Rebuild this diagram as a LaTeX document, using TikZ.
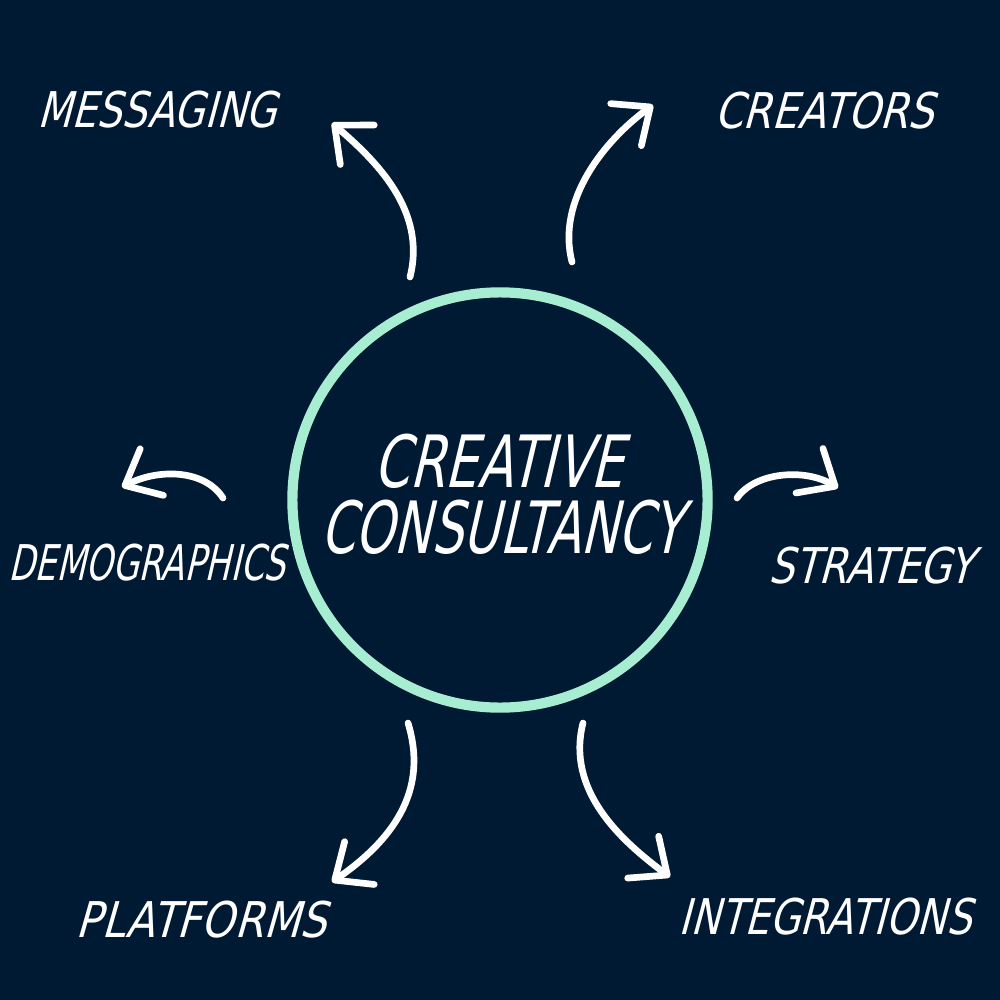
\documentclass[tikz,border=0pt]{standalone}
\usepackage{fontspec}
\usetikzlibrary{arrows.meta}
\newfontfamily\brushfont{DejaVu Sans}[FakeSlant=0.25,FakeStretch=0.75]
\definecolor{navy}{HTML}{011A33}
\definecolor{mint}{HTML}{A7EDD1}

\begin{document}
\begin{tikzpicture}[x=0.01cm, y=-0.01cm,
  word/.style={text=white, font=\brushfont\fontsize{14pt}{16pt}\selectfont, inner sep=0pt},
  title/.style={text=white, font=\brushfont\fontsize{20.5pt}{24pt}\selectfont, inner sep=0pt},
  flow/.style={draw=white, line width=1.9pt, line cap=round, -{Straight Barb[length=3mm, width=5.2mm, round]}}]
\useasboundingbox (0,0) rectangle (1000,1000);
\fill[navy] (-10,-10) rectangle (1010,1010);
% hub
\node[circle, draw=mint, line width=2.9pt, inner sep=0pt, minimum size=4.15cm] (hub) at (500,500) {};
\node[title] (creative) at (498,461) {\scalebox{0.95}[1]{CREATIVE}};
\node[title] (consult) at (501,527) {\scalebox{0.92}[1]{CONSULTANCY}};
% labels
\node[word] (messaging) at (157,110) {\scalebox{1.07}[1]{MESSAGING}};
\node[word] (creators) at (824,111) {\scalebox{1.11}[1]{CREATORS}};
\node[word] (demo) at (147,563) {\scalebox{0.92}[1]{DEMOGRAPHICS}};
\node[word] (strategy) at (871,566) {\scalebox{1.09}[1]{STRATEGY}};
\node[word] (platforms) at (201,920) {\scalebox{1.14}[1]{PLATFORMS}};
\node[word] (integrations) at (825,917) {\scalebox{1.07}[1]{INTEGRATIONS}};
% arrow ends
\coordinate (m0) at (410,277); \coordinate (m1) at (332,123);
\coordinate (c0) at (572,262); \coordinate (c1) at (653,105);
\coordinate (d0) at (223,498); \coordinate (d1) at (122,487);
\coordinate (s0) at (737,498); \coordinate (s1) at (838,488);
\coordinate (p0) at (408,723); \coordinate (p1) at (332,882);
\coordinate (i0) at (583,723); \coordinate (i1) at (670,877);
\draw[flow] (m0) .. controls (427,210) and (375,160) .. (m1);
\draw[flow] (c0) .. controls (556,200) and (605,140) .. (c1);
\draw[flow] (d0) .. controls (205,470) and (160,468) .. (d1);
\draw[flow] (s0) .. controls (755,472) and (805,468) .. (s1);
\draw[flow] (p0) .. controls (427,785) and (400,835) .. (p1);
\draw[flow] (i0) .. controls (566,790) and (620,840) .. (i1);
\end{tikzpicture}
\end{document}
